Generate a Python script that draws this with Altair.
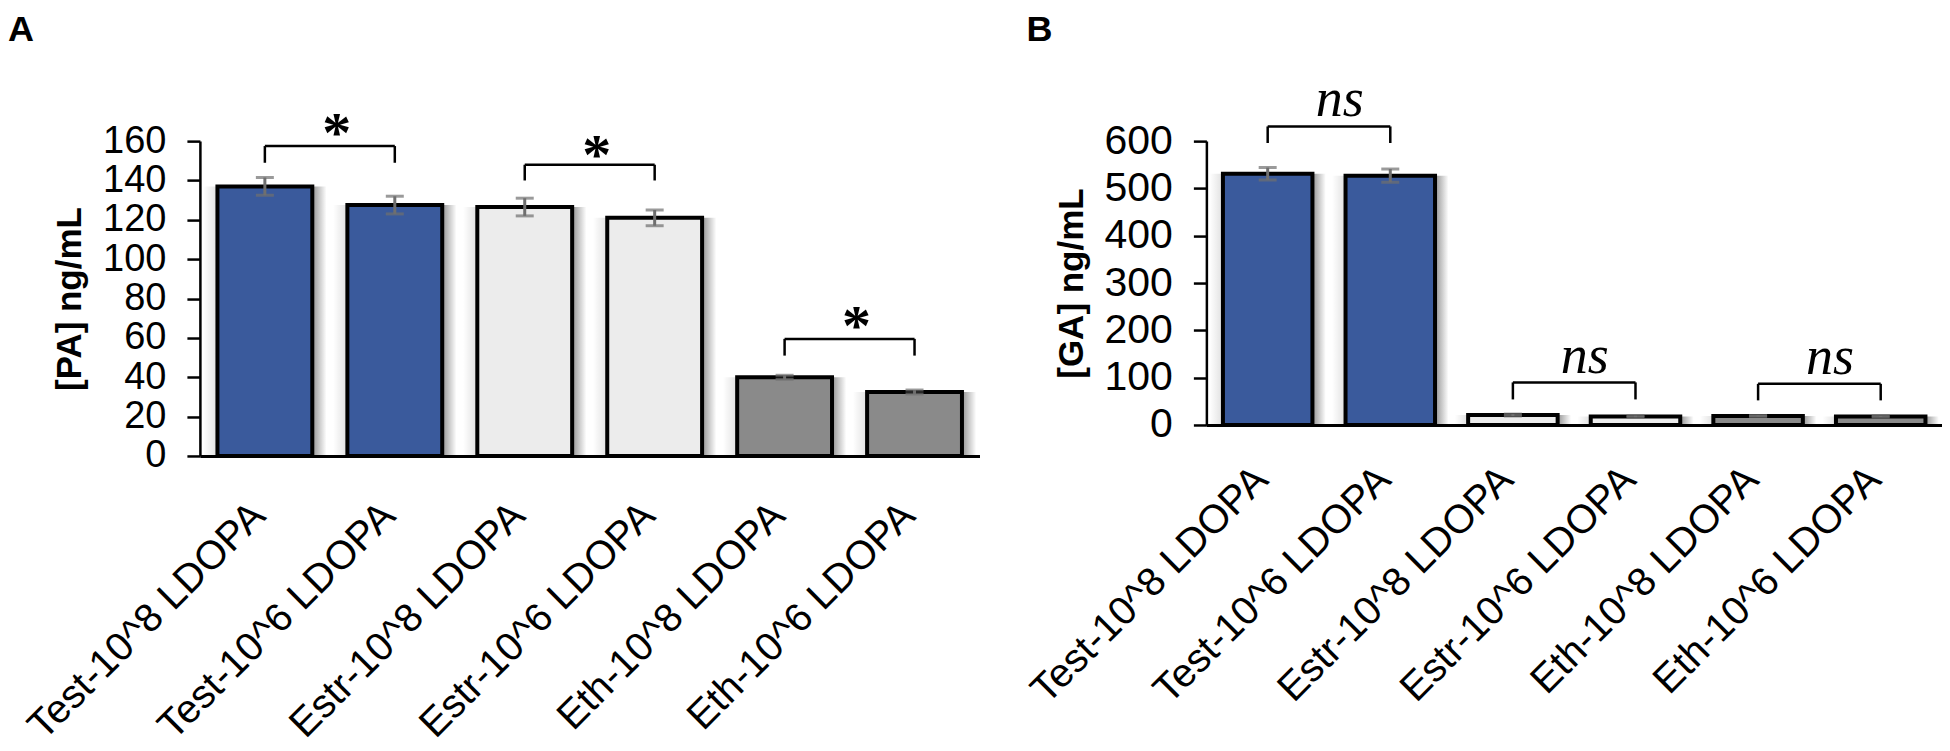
import altair as alt
import pandas as pd

# ---------------- data ----------------
categories = ["Test-10^8 LDOPA", "Test-10^6 LDOPA", "Estr-10^8 LDOPA",
              "Estr-10^6 LDOPA", "Eth-10^8 LDOPA", "Eth-10^6 LDOPA"]
groups = ["Test", "Test", "Estr", "Estr", "Eth", "Eth"]
group_order = ["Test", "Estr", "Eth"]

pa_mean = [137, 127.5, 126.5, 121, 40, 32.5]
pa_err = [4.5, 4.5, 4.5, 4, 1, 1]
ga_mean = [531, 527, 21, 18, 19, 18]
ga_err = [13, 14, 2, 1.5, 1, 1]

pa_ticks = [0, 20, 40, 60, 80, 100, 120, 140, 160]
ga_ticks = [0, 100, 200, 300, 400, 500, 600]

pair_left = ["Test-10^8 LDOPA", "Estr-10^8 LDOPA", "Eth-10^8 LDOPA"]
pair_right = ["Test-10^6 LDOPA", "Estr-10^6 LDOPA", "Eth-10^6 LDOPA"]

pa_bracket_top = [157.5, 148, 59.5]
pa_bracket_leg = [149, 140, 51]
pa_mark_y = [154.4, 143.5, 56.4]
pa_marks = ["*", "*", "*"]

ga_bracket_top = [631, 90, 87]
ga_bracket_leg = [596, 54, 52]
ga_mark_y = [653, 110, 108]
ga_marks = ["ns", "ns", "ns"]

panel_letters = ["A", "B"]
y_titles = ["[PA] ng/mL", "[GA] ng/mL"]

# ---------------- style ----------------
SANS = "Liberation Sans"
SERIF = "Liberation Serif"
bar_colors = ["#3a5a9c", "#ececec", "#8a8a8a"]
err_color = "#6f6f6f"

shadow_fill = alt.LinearGradient(
    gradient="linear", x1=0, x2=1, y1=0, y2=0,
    stops=[
        alt.GradientStop(offset=0, color="rgba(0,0,0,0)"),
        alt.GradientStop(offset=0.115, color="rgba(0,0,0,0.12)"),
        alt.GradientStop(offset=0.885, color="rgba(0,0,0,0.42)"),
        alt.GradientStop(offset=1, color="rgba(0,0,0,0)"),
    ],
)


def make_panel(mean, err, ticks, ytitle, btop, bleg, marky, marks, letter,
               width, height, label_pad, tick_font, mark_font, mark_size,
               mark_style, mark_weight, mark_dx, letter_dx):
    df = pd.DataFrame({
        "cat": categories,
        "group": groups,
        "mean": mean,
        "lo": [m - e for m, e in zip(mean, err)],
        "hi": [m + e for m, e in zip(mean, err)],
    })
    sig = pd.DataFrame({
        "left": pair_left, "right": pair_right,
        "top": btop, "leg": bleg, "my": marky, "mark": marks,
    })

    xscale = alt.Scale(domain=categories, paddingInner=0.27, paddingOuter=0.135)
    yscale = alt.Scale(domain=[ticks[0], ticks[-1]], nice=False)
    xaxis = alt.Axis(
        title=None, labelAngle=-45, labelAlign="right", labelBaseline="middle",
        labelFont=SANS, labelFontSize=40, labelColor="black", labelLimit=500,
        labelOverlap=False, labelPadding=label_pad, labelOffset=-6,
        ticks=False, tickSize=0, domainColor="black", domainWidth=3, grid=False,
    )
    yaxis = alt.Axis(
        title=ytitle, values=ticks, titleFont=SANS, titleFontSize=35,
        titleFontWeight="bold", titleColor="black", titlePadding=15,
        labelFont=SANS, labelFontSize=tick_font, labelColor="black",
        labelPadding=21, tickSize=13, tickWidth=2.5, tickColor="black",
        domainColor="black", domainWidth=2.5, grid=False, labelOverlap=False,
    )

    def X(field):
        return alt.X(f"{field}:N", scale=xscale, axis=xaxis, title=None)

    def Y(field):
        return alt.Y(f"{field}:Q", scale=yscale, axis=yaxis, title=ytitle)

    base = alt.Chart(df)
    shadow = base.mark_bar(width=alt.RelativeBandSize(1.3), fill=shadow_fill).encode(
        x=X("cat"), y=Y("mean"))
    bars = base.mark_bar(stroke="black", strokeWidth=4).encode(
        x=X("cat"), y=Y("mean"),
        fill=alt.Fill("group:N", scale=alt.Scale(domain=group_order, range=bar_colors),
                      legend=None),
    )
    err_rule = base.mark_rule(color=err_color, strokeWidth=3).encode(
        x=X("cat"), y=Y("lo"), y2="hi:Q")
    cap_lo = base.mark_tick(color=err_color, size=18, thickness=3).encode(
        x=X("cat"), y=Y("lo"))
    cap_hi = base.mark_tick(color=err_color, size=18, thickness=3).encode(
        x=X("cat"), y=Y("hi"))

    sbase = alt.Chart(sig)
    hline = sbase.mark_rule(color="black", strokeWidth=2.5).encode(
        x=X("left"), x2="right:N", y=Y("top"))
    lleg = sbase.mark_rule(color="black", strokeWidth=2.5).encode(
        x=X("left"), y=Y("top"), y2="leg:Q")
    rleg = sbase.mark_rule(color="black", strokeWidth=2.5).encode(
        x=X("right"), y=Y("top"), y2="leg:Q")
    sig_text = sbase.mark_text(
        font=mark_font, fontSize=mark_size, fontStyle=mark_style,
        fontWeight=mark_weight, align="center", baseline="alphabetic",
        dx=mark_dx, color="black",
    ).encode(x=X("left"), y=Y("my"), text="mark:N")

    letter_layer = alt.Chart(pd.DataFrame({"t": [letter]})).mark_text(
        font=SANS, fontSize=36, fontWeight="bold", align="left", baseline="top",
        color="black",
    ).encode(x=alt.value(letter_dx), y=alt.value(-128), text="t:N")

    return alt.layer(
        shadow, bars, err_rule, cap_lo, cap_hi, hline, lleg, rleg, sig_text,
        letter_layer,
    ).properties(width=width, height=height)


panel_a = make_panel(pa_mean, pa_err, pa_ticks, y_titles[0], pa_bracket_top,
                     pa_bracket_leg, pa_mark_y, pa_marks, panel_letters[0],
                     780, 315, 53, 38, SERIF, 58, "normal", "bold", 72, -192)
panel_b = make_panel(ga_mean, ga_err, ga_ticks, y_titles[1], ga_bracket_top,
                     ga_bracket_leg, ga_mark_y, ga_marks, panel_letters[1],
                     736, 284, 48, 41, SERIF, 54, "italic", "normal", 72, -180)

chart = alt.hconcat(
    panel_a, panel_b, spacing=227, bounds="flush",
    padding={"left": 0, "top": 4, "right": 0, "bottom": 0},
    background="white",
).configure_view(strokeWidth=0)

chart.save("out.html", embed_options={"renderer": "svg", "actions": False})
